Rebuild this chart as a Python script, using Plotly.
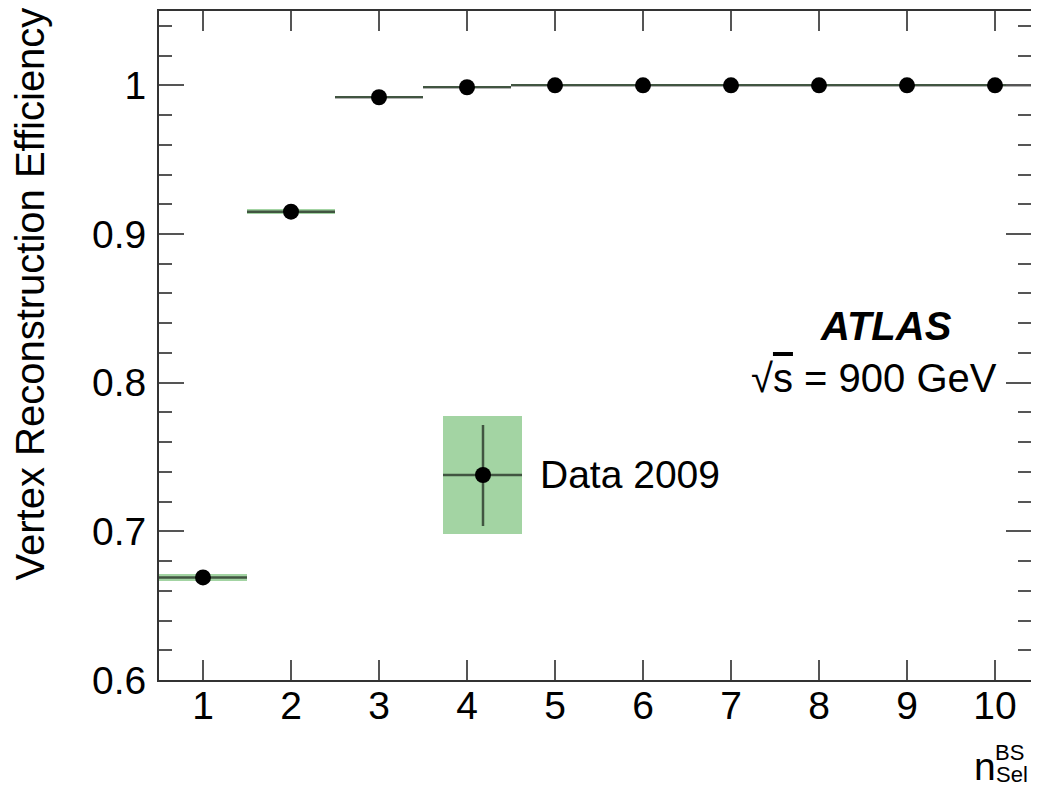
import plotly.graph_objects as go

# ---- data ----
n_sel = [1, 2, 3, 4, 5, 6, 7, 8, 9, 10]
efficiency = [0.669, 0.915, 0.992, 0.9987, 1.0, 1.0, 1.0, 1.0, 1.0, 1.0]
stat_err = [0.0012, 0.0008, 0.0004, 0.0002, 0.0001, 0.0001, 0.0001, 0.0001, 0.0001, 0.0001]
syst_err = [0.0022, 0.0016, 0.0008, 0.0004, 0.0003, 0.0003, 0.0003, 0.0003, 0.0003, 0.0003]
bin_halfwidth = [0.5] * 10
x_ticks = [1, 2, 3, 4, 5, 6, 7, 8, 9, 10]
y_ticks = [0.6, 0.7, 0.8, 0.9, 1.0]
y_tick_labels = ["0.6", "0.7", "0.8", "0.9", "1"]

FONT = "Liberation Sans, Arial, Helvetica, sans-serif"
GREEN = "#a3d4a3"
LINEC = "rgba(0,0,0,0.6)"
AXC = "#333333"
TICKC = "#555555"
FS = 39
FS2 = 40

OFF = 8  # page body margin
W, H = 1039 - 2 * OFF, 799 - 2 * OFF
# plot area in screen pixels: left 159, top 11, bottom 680, right = figure edge
ML = 159 - OFF
MR = 0
MT = 11 - OFF
MB = H - (680 - OFF)
PW = W - ML - MR
PH = H - MT - MB
X_PER_UNIT = 88.0
X_MAX = 0.5 + PW / X_PER_UNIT


def px(x):
    return (x - OFF - ML) / PW


def py(y):
    return (MT + PH - (y - OFF)) / PH


fig = go.Figure()

# systematic bands
fig.add_trace(go.Bar(
    x=n_sel,
    y=[2 * s for s in syst_err],
    base=[e - s for e, s in zip(efficiency, syst_err)],
    width=[2 * w for w in bin_halfwidth],
    marker=dict(color=GREEN, line=dict(width=0)),
    showlegend=False, hoverinfo="skip",
))

# points with error bars
fig.add_trace(go.Scatter(
    x=n_sel, y=efficiency, mode="markers",
    marker=dict(color="black", size=16, symbol="circle"),
    error_x=dict(type="data", array=bin_halfwidth, color=LINEC, thickness=2.5, width=0),
    error_y=dict(type="data", array=stat_err, color=LINEC, thickness=2.5, width=0),
    showlegend=False, cliponaxis=True,
))

# invisible trace for right-side mirrored ticks axis
fig.add_trace(go.Scatter(x=[n_sel[0]], y=[efficiency[0]], yaxis="y2", mode="markers",
                         marker=dict(opacity=0), showlegend=False, hoverinfo="skip"))

fig.update_layout(
    width=W, height=H,
    margin=dict(l=ML, r=MR, t=MT, b=MB, pad=0, autoexpand=False),
    paper_bgcolor="white", plot_bgcolor="white",
    barmode="overlay", bargap=0,
    font=dict(family=FONT, size=FS, color="black"),
    xaxis=dict(
        range=[0.5, X_MAX], tickvals=x_ticks, ticktext=[str(t) for t in x_ticks],
        ticks="inside", ticklen=20, tickwidth=2, tickcolor=TICKC,
        showline=True, linecolor=AXC, linewidth=2, mirror="ticks",
        showgrid=False, zeroline=False, automargin=False,
        tickfont=dict(family=FONT, size=FS, color="black"),
        ticklabelstandoff=-10,
    ),
    yaxis=dict(
        range=[0.6, 1.05], tickvals=y_ticks, ticktext=y_tick_labels,
        ticks="inside", ticklen=25, tickwidth=2, tickcolor=TICKC,
        showline=True, linecolor=AXC, linewidth=2, mirror=False,
        showgrid=False, zeroline=False, automargin=False,
        minor=dict(dtick=0.02, tick0=0.6, ticks="inside", ticklen=13, tickwidth=2,
                   tickcolor=TICKC, showgrid=False),
        tickfont=dict(family=FONT, size=FS, color="black"),
        ticklabelstandoff=3,
    ),
    yaxis2=dict(
        range=[0.6, 1.05], overlaying="y", side="right", tickvals=y_ticks,
        showticklabels=False, ticks="inside", ticklen=25, tickwidth=2, tickcolor=TICKC,
        showline=False, showgrid=False, zeroline=False, automargin=False,
        minor=dict(dtick=0.02, tick0=0.6, ticks="inside", ticklen=13, tickwidth=2,
                   tickcolor=TICKC, showgrid=False),
    ),
)

# legend symbol (layout decoration)
fig.add_shape(type="rect", xref="paper", yref="paper",
              x0=px(443), x1=px(522), y0=py(534), y1=py(416),
              fillcolor=GREEN, line=dict(width=0), layer="above")
fig.add_shape(type="line", xref="paper", yref="paper",
              x0=px(443), x1=px(522), y0=py(475), y1=py(475),
              line=dict(color=LINEC, width=2.5), layer="above")
fig.add_shape(type="line", xref="paper", yref="paper",
              x0=px(483), x1=px(483), y0=py(526), y1=py(425),
              line=dict(color=LINEC, width=2.5), layer="above")
fig.add_shape(type="circle", xref="paper", yref="paper",
              x0=px(475), x1=px(491), y0=py(483), y1=py(467),
              fillcolor="black", line=dict(width=0), layer="above")

ann = [
    dict(text="Data 2009", x=px(538), y=py(475), xanchor="left", yanchor="middle",
         font=dict(size=FS)),
    dict(text="<b><i>ATLAS</i></b>", x=px(886), y=py(326), xanchor="center", yanchor="middle",
         font=dict(size=FS2)),
    dict(text="√<span style='text-decoration:overline'>s</span> = 900 GeV", x=px(999), y=py(378),
         xanchor="right", yanchor="middle", font=dict(size=FS2)),
    dict(text="Vertex Reconstruction Efficiency", x=px(29), y=py(6), xanchor="center",
         yanchor="top", textangle=-90, font=dict(size=40)),
    dict(text="n", x=px(985), y=py(766), xanchor="center", yanchor="middle", font=dict(size=FS)),
    dict(text="BS", x=px(1009), y=py(752), xanchor="center", yanchor="middle", font=dict(size=22)),
    dict(text="Sel", x=px(1012), y=py(774), xanchor="center", yanchor="middle", font=dict(size=22)),
]
for a in ann:
    a.update(xref="paper", yref="paper", showarrow=False)
    a["font"] = dict(family=FONT, color="black", **a["font"])
    fig.add_annotation(**a)

fig.write_html("out.html")
